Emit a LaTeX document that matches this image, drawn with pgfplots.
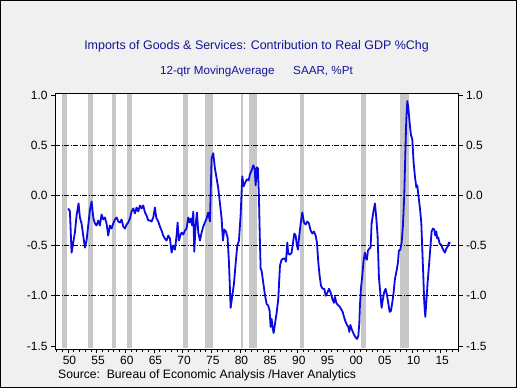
\documentclass[border=0pt]{standalone}
\usepackage{pgfplots}
\usepackage{pgfplotstable}
\pgfplotsset{compat=1.18}
\usepackage{fontspec}
\setmainfont{Liberation Sans}
\definecolor{bg}{RGB}{240,240,240}
\definecolor{recess}{RGB}{200,200,200}
\definecolor{titleblue}{RGB}{20,20,150}
\definecolor{lineblue}{RGB}{10,10,225}

\pgfplotstableread{
year val
1950.06 -0.13
1950.35 -0.16
1950.64 -0.57
1950.93 -0.47
1951.22 -0.37
1951.51 -0.20
1951.86 -0.08
1952.09 -0.22
1952.38 -0.28
1952.67 -0.40
1952.96 -0.52
1953.25 -0.45
1953.54 -0.30
1953.83 -0.15
1954.13 -0.06
1954.42 -0.22
1954.71 -0.28
1955.00 -0.30
1955.29 -0.25
1955.58 -0.30
1955.87 -0.19
1956.16 -0.24
1956.45 -0.22
1956.74 -0.28
1957.03 -0.40
1957.32 -0.30
1957.61 -0.33
1957.90 -0.28
1958.20 -0.24
1958.49 -0.22
1958.78 -0.26
1959.07 -0.27
1959.36 -0.24
1959.65 -0.31
1959.94 -0.33
1960.23 -0.29
1960.52 -0.27
1960.81 -0.23
1961.10 -0.16
1961.39 -0.13
1961.68 -0.18
1961.97 -0.12
1962.26 -0.16
1962.56 -0.10
1962.85 -0.13
1963.14 -0.10
1963.43 -0.17
1963.72 -0.20
1964.01 -0.25
1964.30 -0.25
1964.59 -0.26
1964.88 -0.22
1965.17 -0.12
1965.40 -0.22
1965.75 -0.26
1966.04 -0.31
1966.33 -0.35
1966.62 -0.40
1966.91 -0.43
1967.20 -0.45
1967.50 -0.40
1967.79 -0.43
1968.08 -0.57
1968.37 -0.50
1968.66 -0.54
1968.95 -0.40
1969.12 -0.27
1969.36 -0.45
1969.59 -0.40
1969.82 -0.37
1970.11 -0.39
1970.40 -0.35
1970.69 -0.33
1970.98 -0.22
1971.22 -0.27
1971.45 -0.23
1971.68 -0.30
1971.86 -0.16
1972.03 -0.56
1972.26 -0.30
1972.50 -0.17
1972.73 -0.37
1973.02 -0.45
1973.31 -0.37
1973.60 -0.31
1973.89 -0.27
1974.18 -0.23
1974.47 -0.17
1974.76 -0.26
1975.05 0.37
1975.34 0.42
1975.63 0.27
1975.93 0.17
1976.22 0.07
1976.51 -0.08
1976.80 -0.23
1977.03 -0.45
1977.26 -0.34
1977.55 -0.36
1977.84 -0.42
1978.08 -0.67
1978.37 -1.12
1978.66 -1.00
1978.95 -0.88
1979.24 -0.68
1979.53 -0.50
1979.82 -0.45
1980.11 -0.20
1980.40 0.19
1980.63 0.09
1980.93 0.13
1981.22 0.16
1981.51 0.15
1981.74 0.21
1982.03 0.25
1982.32 0.30
1982.55 0.27
1982.73 0.10
1982.96 0.28
1983.12 0.27
1983.30 0.00
1983.45 -0.40
1983.60 -0.73
1983.77 -0.75
1984.06 -0.87
1984.35 -0.99
1984.64 -1.08
1984.94 -1.10
1985.17 -1.15
1985.34 -1.31
1985.52 -1.23
1985.69 -1.32
1985.87 -1.37
1986.10 -1.28
1986.39 -1.17
1986.68 -1.03
1986.97 -0.70
1987.26 -0.64
1987.55 -0.63
1987.84 -0.63
1988.02 -0.66
1988.25 -0.47
1988.42 -0.58
1988.71 -0.59
1989.00 -0.57
1989.30 -0.45
1989.47 -0.38
1989.70 -0.40
1989.94 -0.50
1990.11 -0.54
1990.28 -0.43
1990.58 -0.28
1990.87 -0.17
1991.16 -0.27
1991.45 -0.29
1991.74 -0.26
1992.03 -0.28
1992.32 -0.35
1992.61 -0.38
1992.90 -0.36
1993.19 -0.40
1993.42 -0.47
1993.66 -0.67
1993.89 -0.80
1994.12 -0.90
1994.41 -0.93
1994.70 -0.93
1994.94 -1.00
1995.23 -0.97
1995.52 -0.93
1995.81 -0.97
1996.10 -1.03
1996.39 -1.07
1996.56 -1.01
1996.80 -1.07
1997.03 -1.09
1997.26 -1.10
1997.61 -1.13
1997.90 -1.16
1998.19 -1.22
1998.42 -1.26
1998.66 -1.29
1998.89 -1.31
1999.06 -1.36
1999.24 -1.29
1999.53 -1.34
1999.82 -1.38
2000.11 -1.41
2000.40 -1.43
2000.63 -1.40
2000.81 -1.27
2000.91 -1.10
2001.09 -0.93
2001.32 -0.80
2001.55 -0.65
2001.78 -0.57
2001.96 -0.63
2002.13 -0.64
2002.31 -0.55
2002.54 -0.53
2002.77 -0.52
2002.95 -0.28
2003.24 -0.17
2003.53 -0.08
2003.76 -0.22
2003.99 -0.40
2004.23 -0.82
2004.46 -0.97
2004.69 -1.12
2004.92 -1.03
2005.16 -0.96
2005.39 -0.93
2005.62 -0.99
2005.85 -1.07
2006.09 -1.16
2006.32 -1.15
2006.55 -1.07
2006.78 -0.97
2007.02 -0.83
2007.31 -0.75
2007.54 -0.67
2007.71 -0.55
2007.95 -0.54
2008.18 -0.47
2008.41 -0.30
2008.64 0.00
2008.82 0.40
2008.99 0.75
2009.17 0.94
2009.34 0.88
2009.57 0.73
2009.81 0.60
2010.04 0.56
2010.27 0.33
2010.50 0.19
2010.74 0.08
2010.91 0.10
2011.15 -0.02
2011.38 -0.13
2011.61 -0.27
2011.78 -0.53
2011.96 -0.80
2012.13 -1.07
2012.31 -1.21
2012.48 -1.07
2012.71 -0.87
2012.95 -0.70
2013.18 -0.53
2013.41 -0.36
2013.64 -0.33
2013.88 -0.34
2014.05 -0.40
2014.23 -0.36
2014.40 -0.43
2014.57 -0.42
2014.81 -0.48
2015.04 -0.49
2015.27 -0.52
2015.51 -0.55
2015.74 -0.57
2015.97 -0.53
2016.20 -0.51
2016.44 -0.47
2016.67 -0.48
}\imports

\pgfplotsset{recbar/.style={fill=recess, draw=none, forget plot},
  gridln/.style={black, line width=0.6bp, dash pattern=on 5bp off 1.5bp on 1bp off 1.5bp, forget plot}}

\begin{document}
\begin{tikzpicture}[x=1bp,y=1bp]
\fill[bg] (0,0) rectangle (517,388);
\draw[black, line width=1bp] (0.5,0.5) rectangle (516.5,387.5);
\fill[white] (55,39) rectangle (458.5,295);
\node[titleblue, font=\fontsize{12.5}{14}\selectfont] at (256.5,341.5) {Imports of Goods \& Services: Contribution to Real GDP \%Chg};
\node[titleblue, font=\fontsize{11.7}{13}\selectfont] at (256.5,316.5) {12-qtr MovingAverage\hspace{1.6em}SAAR, \%Pt};
\node[anchor=west, font=\fontsize{12.2}{14}\selectfont, inner sep=0pt] at (58,13) {Source:\ \ Bureau of Economic Analysis /Haver Analytics};

\begin{axis}[
  at={(55bp,39bp)}, anchor=south west,
  scale only axis, width=403.5bp, height=256bp,
  xmin=1947.75, xmax=2018.1, ymin=-1.53, ymax=1.02,
  axis line style={line width=0.8bp},
  xtick={1950,1955,...,2015},
  xticklabels={50,55,60,65,70,75,80,85,90,95,00,05,10,15},
  minor xtick={1948,1949,...,2018},
  ytick={-1.5,-1,-0.5,0,0.5,1},
  yticklabels={-1.5,-1.0,-0.5,0.0,0.5,1.0},
  tick align=outside,
  xtick pos=bottom, ytick pos=left,
  major tick length=4bp, minor tick length=3bp,
  tick style={black, line width=0.6bp},
  tick label style={font=\fontsize{12}{14}\selectfont},
  xticklabel style={xshift=1.5bp},
  clip=true,
]
\addplot[recbar] coordinates {(1948.95,-1.52) (1948.95,1.01) (1949.90,1.01) (1949.90,-1.52)} -- cycle;
\addplot[recbar] coordinates {(1953.55,-1.52) (1953.55,1.01) (1954.45,1.01) (1954.45,-1.52)} -- cycle;
\addplot[recbar] coordinates {(1957.65,-1.52) (1957.65,1.01) (1958.35,1.01) (1958.35,-1.52)} -- cycle;
\addplot[recbar] coordinates {(1960.35,-1.52) (1960.35,1.01) (1961.15,1.01) (1961.15,-1.52)} -- cycle;
\addplot[recbar] coordinates {(1970.00,-1.52) (1970.00,1.01) (1970.90,1.01) (1970.90,-1.52)} -- cycle;
\addplot[recbar] coordinates {(1973.95,-1.52) (1973.95,1.01) (1975.25,1.01) (1975.25,-1.52)} -- cycle;
\addplot[recbar] coordinates {(1980.10,-1.52) (1980.10,1.01) (1980.50,1.01) (1980.50,-1.52)} -- cycle;
\addplot[recbar] coordinates {(1981.60,-1.52) (1981.60,1.01) (1982.90,1.01) (1982.90,-1.52)} -- cycle;
\addplot[recbar] coordinates {(1990.50,-1.52) (1990.50,1.01) (1991.20,1.01) (1991.20,-1.52)} -- cycle;
\addplot[recbar] coordinates {(2001.15,-1.52) (2001.15,1.01) (2001.90,1.01) (2001.90,-1.52)} -- cycle;
\addplot[recbar] coordinates {(2007.90,-1.52) (2007.90,1.01) (2009.45,1.01) (2009.45,-1.52)} -- cycle;
\addplot[gridln] coordinates {(1947.75,0.5) (2018.1,0.5)};
\addplot[gridln] coordinates {(1947.75,0) (2018.1,0)};
\addplot[gridln] coordinates {(1947.75,-0.5) (2018.1,-0.5)};
\addplot[gridln] coordinates {(1947.75,-1) (2018.1,-1)};
\addplot[lineblue, line width=1.8bp, line join=round, no markers] table[x=year, y=val] {\imports};
\end{axis}

\begin{axis}[
  at={(55bp,39bp)}, anchor=south west,
  scale only axis, width=403.5bp, height=256bp,
  xmin=1947.75, xmax=2018.1, ymin=-1.53, ymax=1.02,
  axis x line=none, axis y line*=right,
  axis line style={line width=0.8bp},
  ytick={-1.5,-1,-0.5,0,0.5,1},
  yticklabels={-1.5,-1.0,-0.5,0.0,0.5,1.0},
  tick align=outside,
  major tick length=4bp,
  tick style={black, line width=0.6bp},
  tick label style={font=\fontsize{12}{14}\selectfont},
]
\end{axis}
\end{tikzpicture}
\end{document}
